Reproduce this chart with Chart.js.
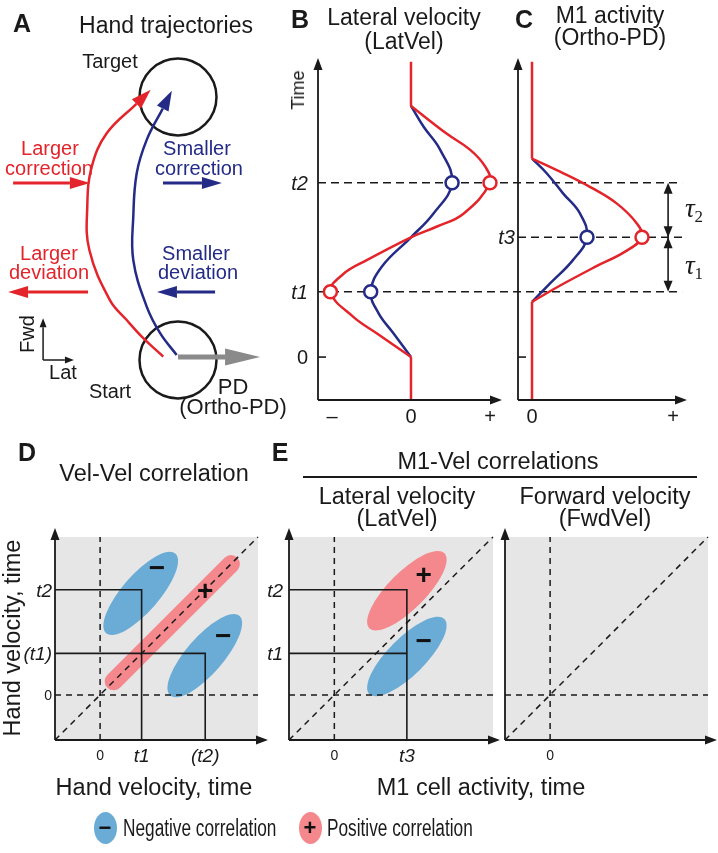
<!DOCTYPE html>
<html>
<head>
<meta charset="utf-8">
<script src="https://cdn.jsdelivr.net/npm/chart.js@4.4.0/dist/chart.umd.min.js"></script>
<style>
  body { margin: 0; background: #fff; }
  #fig { position: relative; width: 718px; height: 853px; overflow: hidden;
         font-family: "Liberation Sans", Arial, Helvetica, sans-serif; color: #1a1a1a; }
  #fig canvas { position: absolute; left: 0; top: 0; }
  .t { position: absolute; white-space: nowrap; line-height: 1; }
  .t sub { font-style: normal; font-size: 17px; vertical-align: -0.3em; }
</style>
</head>
<body>
<div id="fig"></div>
<script>
// ---------- data ----------
// A: hand paths, lateral / forward position (start = 0,0 ; target = 0,10)
const targetStart = [{x: 0, y: 10}, {x: 0, y: 0}];
const trajRed = [{x: -0.56, y: 0.13}, {x: -1.32, y: 0.83}, {x: -1.95, y: 1.52}, {x: -2.59, y: 2.28},
  {x: -3.37, y: 4.18}, {x: -3.45, y: 5.83}, {x: -3.28, y: 7.35}, {x: -2.71, y: 8.62},
  {x: -1.58, y: 9.74}];
const trajBlue = [{x: -0.05, y: 0.19}, {x: -0.68, y: 1.02}, {x: -1.19, y: 2.03}, {x: -1.70, y: 3.80},
  {x: -1.70, y: 5.45}, {x: -1.57, y: 7.10}, {x: -1.19, y: 8.37}, {x: -0.58, y: 9.56}];
const corrLarger = [{x: -6.27, y: 6.73}, {x: -4.11, y: 6.73}];
const corrSmaller = [{x: -0.57, y: 6.73}, {x: 0.91, y: 6.73}];
const devLarger = [{x: -3.42, y: 2.59}, {x: -5.70, y: 2.59}];
const devSmaller = [{x: 1.41, y: 2.59}, {x: -0.04, y: 2.59}];
const pdArrow = [{x: 0, y: 0.11}, {x: 1.79, y: 0.11}];
const fwdArrow = [{x: -5.13, y: 0}, {x: -5.13, y: 1.25}];
const latArrow = [{x: -5.13, y: 0}, {x: -4.30, y: 0}];

// B / C: time runs upward, movement from 0 to 1
const t1 = 0.26, t3 = 0.477, t2 = 0.694;
const latRedPre = [{x: 0, y: -0.171}, {x: 0, y: 0}];
const latRedWave = [{x: 0, y: 0}, {x: -0.43, y: 0.094}, {x: -0.73, y: 0.16}, {x: -1.02, y: 0.26},
  {x: -0.86, y: 0.33}, {x: -0.56, y: 0.386}, {x: 0, y: 0.477}, {x: 0.33, y: 0.52},
  {x: 0.66, y: 0.57}, {x: 1.0, y: 0.694}, {x: 0.94, y: 0.758}, {x: 0.75, y: 0.825},
  {x: 0.45, y: 0.89}, {x: 0, y: 1.0}];
const latRedPost = [{x: 0, y: 1.0}, {x: 0, y: 1.176}];
const latBlueWave = [{x: 0, y: 0}, {x: -0.22, y: 0.094}, {x: -0.41, y: 0.174}, {x: -0.51, y: 0.26},
  {x: -0.37, y: 0.36}, {x: 0, y: 0.477}, {x: 0.28, y: 0.57}, {x: 0.52, y: 0.694},
  {x: 0.37, y: 0.825}, {x: 0.16, y: 0.917}, {x: 0, y: 1.0}];
const latRedPeaks = [{x: -1.02, y: t1}, {x: 1.0, y: t2}];
const latBluePeaks = [{x: -0.51, y: t1}, {x: 0.52, y: t2}];
const latXTicks = [-1, 0, 1], latXLabels = ['–', '0', '+'];
const latYTicks = [0, t1, t2], latYLabels = ['0', 't1', 't2'];

const m1RedPre = [{x: 0, y: -0.171}, {x: 0, y: 0.22}];
const m1RedWave = [{x: 0, y: 0.22}, {x: 0.2, y: 0.285}, {x: 0.45, y: 0.36}, {x: 0.66, y: 0.42},
  {x: 0.78, y: 0.477}, {x: 0.742, y: 0.533}, {x: 0.60, y: 0.612}, {x: 0.41, y: 0.678},
  {x: 0.199, y: 0.738}, {x: 0, y: 0.79}];
const m1RedPost = [{x: 0, y: 0.79}, {x: 0, y: 1.176}];
const m1BlueWave = [{x: 0, y: 0.22}, {x: 0.128, y: 0.293}, {x: 0.29, y: 0.386}, {x: 0.39, y: 0.477},
  {x: 0.34, y: 0.572}, {x: 0.22, y: 0.652}, {x: 0.104, y: 0.732}, {x: 0, y: 0.79}];
const m1RedPeaks = [{x: 0.78, y: t3}];
const m1BluePeaks = [{x: 0.39, y: t3}];
const m1XTicks = [0, 1], m1XLabels = ['0', '+'];
const tauX = 0.965, guideEnd = 1.064;

// D / E: correlation maps, both axes in the same time units
const corrMin = -1, corrMax = 3.5;
const vvT1 = 0.92, vvT2 = 2.33, eT3 = 1.6;
const vvNeg = [{x: 0.9, y: 2.25, a: 1.17, b: 0.41, ang: 49}, {x: 2.32, y: 0.87, a: 1.17, b: 0.41, ang: 49}];
const vvPosBand = [{x: 0.3, y: 0.3}, {x: 2.9, y: 2.9}];
const vvSteps = [[{x: -1, y: vvT2}, {x: vvT1, y: vvT2}, {x: vvT1, y: -1}],
                 [{x: -1, y: vvT1}, {x: vvT2, y: vvT1}, {x: vvT2, y: -1}]];
const vvSigns = [{x: 1.26, y: 2.82, s: '−'}, {x: 2.33, y: 2.31, s: '+'}, {x: 2.73, y: 1.31, s: '−'}];
const vvXTicks = [0, vvT1, vvT2], vvXLabels = ['0', 't1', '(t2)'];
const vvYTicks = [0, vvT1, vvT2], vvYLabels = ['0', '(t1)', 't2'];

const latPos = [{x: 1.6, y: 2.31, a: 1.17, b: 0.41, ang: 45}];
const latNeg = [{x: 1.6, y: 0.85, a: 1.17, b: 0.41, ang: 45}];
const latSteps = [[{x: -1, y: vvT2}, {x: eT3, y: vvT2}, {x: eT3, y: -1}],
                  [{x: -1, y: vvT1}, {x: eT3, y: vvT1}]];
const latSigns = [{x: 1.97, y: 2.66, s: '+'}, {x: 1.97, y: 1.2, s: '−'}];
const eLXTicks = [0, eT3], eLXLabels = ['0', 't3'];
const eYTicks = [vvT1, vvT2], eYLabels = ['t1', 't2'];
const eRXTicks = [0], eRXLabels = ['0'];

// ---------- drawing ----------
const RED = '#e3242b', NAVY = '#242b86', INK = '#1a1a1a', PANEL = '#e6e6e6',
      PINK = '#f5888d', SKY = '#6aacd5', PDGRAY = '#8a8a8a';
const W = 718, H = 853;
const fig = document.getElementById('fig');

function T(s, x, y, o = {}) {
  const d = document.createElement('div');
  d.className = 't';
  if (o.html) d.innerHTML = s; else d.textContent = s;
  const st = d.style;
  st.left = x + 'px'; st.top = y + 'px';
  st.fontSize = (o.size || 20) + 'px';
  if (o.bold) st.fontWeight = 'bold';
  if (o.italic) st.fontStyle = 'italic';
  if (o.color) st.color = o.color;
  if (o.serif) st.fontFamily = '"Liberation Serif", "Times New Roman", serif';
  const tx = o.align === 'l' ? '0' : o.align === 'r' ? '-100%' : '-50%';
  st.transformOrigin = o.align === 'l' ? '0 50%' : '50% 50%';
  st.transform = 'translate(' + tx + ',-50%)' + (o.rot ? ' rotate(' + o.rot + 'deg)' : '') +
                 (o.sx ? ' scaleX(' + o.sx + ')' : '');
  fig.appendChild(d);
  return d;
}

function tri(ctx, x, y, a, L, h) {
  ctx.beginPath();
  ctx.moveTo(x, y);
  ctx.lineTo(x - L * Math.cos(a) + h * Math.sin(a), y - L * Math.sin(a) - h * Math.cos(a));
  ctx.lineTo(x - L * Math.cos(a) - h * Math.sin(a), y - L * Math.sin(a) + h * Math.cos(a));
  ctx.closePath();
  ctx.fill();
}

function line(data, color, width, extra) {
  return Object.assign({data, showLine: true, borderColor: color, backgroundColor: color,
    borderWidth: width, pointRadius: 0, tension: 0, clip: false, fill: false}, extra || {});
}
function marks(data, color) {
  return {data, showLine: false, pointRadius: 6.5, pointBorderWidth: 2.5, pointBorderColor: color,
    borderColor: color, pointBackgroundColor: '#fff', backgroundColor: '#fff', clip: false, order: 0};
}

function makeChart(area, xr, yr, datasets, plugins) {
  const cv = document.createElement('canvas');
  cv.width = W; cv.height = H;
  cv.style.width = W + 'px'; cv.style.height = H + 'px';
  fig.appendChild(cv);
  return new Chart(cv, {
    type: 'scatter',
    data: {datasets},
    options: {
      responsive: false, animation: false, events: [],
      layout: {autoPadding: false,
               padding: {left: area.l, top: area.t, right: W - area.r, bottom: H - area.b}},
      plugins: {legend: {display: false}, tooltip: {enabled: false}},
      scales: {
        x: {type: 'linear', display: false, min: xr[0], max: xr[1]},
        y: {type: 'linear', display: false, min: yr[0], max: yr[1]}
      }
    },
    plugins: plugins || []
  });
}

// arrow heads on datasets that carry [length, half width]
const headPlugin = {
  id: 'heads',
  afterDatasetsDraw(chart) {
    const ctx = chart.ctx;
    chart.data.datasets.forEach((d, i) => {
      if (!d.head) return;
      const pts = chart.getDatasetMeta(i).data;
      const p = pts[pts.length - 1], q = pts[pts.length - 2];
      let fx = q.x, fy = q.y;
      if (d.tension && p.cp1x !== undefined && (p.cp1x !== p.x || p.cp1y !== p.y)) { fx = p.cp1x; fy = p.cp1y; }
      const a = Math.atan2(p.y - fy, p.x - fx);
      const [L, h] = d.head;
      ctx.save();
      ctx.fillStyle = d.borderColor;
      tri(ctx, p.x + L * Math.cos(a), p.y + L * Math.sin(a), a, L, h);
      ctx.restore();
    });
  }
};

function drawAxes(chart, extTop, extRight) {
  const {ctx, chartArea: a} = chart;
  const L = 12, h = 4.5;
  ctx.save();
  ctx.strokeStyle = ctx.fillStyle = INK;
  ctx.lineWidth = 1.8;
  ctx.beginPath();
  ctx.moveTo(a.left, a.bottom); ctx.lineTo(a.left, a.top - extTop + L - 1);
  ctx.moveTo(a.left, a.bottom); ctx.lineTo(a.right + extRight - L + 1, a.bottom);
  ctx.stroke();
  tri(ctx, a.left, a.top - extTop, -Math.PI / 2, L, h);
  tri(ctx, a.right + extRight, a.bottom, 0, L, h);
  ctx.restore();
}

function zeroTick(chart) {
  const {ctx, chartArea: a, scales: {y}} = chart;
  ctx.save();
  ctx.strokeStyle = INK; ctx.lineWidth = 1.6;
  ctx.beginPath();
  ctx.moveTo(a.left, y.getPixelForValue(0)); ctx.lineTo(a.left + 8, y.getPixelForValue(0));
  ctx.stroke();
  ctx.restore();
}

// ---------- A ----------
const areaA = {l: 0, t: 0, r: 300, b: 420};
makeChart(areaA, [-6.768, 4.639], [-2.281, 13.688], [
  {data: targetStart, showLine: false, pointRadius: 38.5, pointBorderWidth: 2.5, pointBorderColor: INK,
   borderColor: INK, pointBackgroundColor: 'rgba(0,0,0,0)', backgroundColor: 'rgba(0,0,0,0)', clip: false, order: 5},
  line(trajRed, RED, 2.5, {tension: 0.4, head: [20, 6.5], order: 3}),
  line(trajBlue, NAVY, 2.5, {tension: 0.4, head: [20, 6.5], order: 3}),
  line(corrLarger, RED, 3, {head: [20, 6], order: 2}),
  line(corrSmaller, NAVY, 3, {head: [20, 6], order: 2}),
  line(devLarger, RED, 3, {head: [20, 6], order: 2}),
  line(devSmaller, NAVY, 3, {head: [20, 6], order: 2}),
  line(fwdArrow, INK, 1.5, {head: [9, 3.5], order: 2}),
  line(latArrow, INK, 1.5, {head: [9, 3.5], order: 2}),
  line(pdArrow, PDGRAY, 5, {head: [35, 8.5], order: 1})
], [headPlugin]);

// ---------- C (below B so that B's markers cover the guides) ----------
const areaB = {l: 318, t: 58, r: 502, b: 400};
const areaC = {l: 518, t: 58, r: 687, b: 400};
const timeRange = [-0.171, 1.191];
const chartC = makeChart(areaC, [-0.0993, 1.099], timeRange, [
  marks(m1RedPeaks, RED),
  marks(m1BluePeaks, NAVY),
  line(m1BlueWave, NAVY, 2.5, {tension: 0.4, order: 2}),
  line(m1RedWave, RED, 2.5, {tension: 0.4, order: 1}),
  line(m1RedPre, RED, 2.5, {order: 1}),
  line(m1RedPost, RED, 2.5, {order: 1})
], [{
  id: 'guidesC',
  beforeDatasetsDraw(chart) {
    const {ctx, chartArea: a, scales: {x, y}} = chart;
    const xe = x.getPixelForValue(guideEnd);
    ctx.save();
    ctx.strokeStyle = INK; ctx.lineWidth = 1.5; ctx.setLineDash([8, 5]);
    ctx.beginPath();
    [t1, t2].forEach(t => { ctx.moveTo(areaB.l, y.getPixelForValue(t)); ctx.lineTo(xe, y.getPixelForValue(t)); });
    ctx.moveTo(a.left, y.getPixelForValue(t3)); ctx.lineTo(xe, y.getPixelForValue(t3));
    ctx.stroke();
    // tau arrows
    const xt = x.getPixelForValue(tauX);
    ctx.setLineDash([]); ctx.lineWidth = 1.6; ctx.fillStyle = INK;
    ctx.beginPath(); ctx.moveTo(xt, y.getPixelForValue(t2) + 6); ctx.lineTo(xt, y.getPixelForValue(t1) - 6); ctx.stroke();
    tri(ctx, xt, y.getPixelForValue(t2), -Math.PI / 2, 11, 4.5);
    tri(ctx, xt, y.getPixelForValue(t3), Math.PI / 2, 11, 4.5);
    tri(ctx, xt, y.getPixelForValue(t3), -Math.PI / 2, 11, 4.5);
    tri(ctx, xt, y.getPixelForValue(t1), Math.PI / 2, 11, 4.5);
    ctx.restore();
  },
  afterDraw(chart) { drawAxes(chart, 0, 0); zeroTick(chart); }
}]);

// ---------- B ----------
const chartB = makeChart(areaB, [-1.177, 1.152], timeRange, [
  marks(latRedPeaks, RED),
  marks(latBluePeaks, NAVY),
  line(latBlueWave, NAVY, 2.5, {tension: 0.4, order: 2}),
  line(latRedWave, RED, 2.5, {tension: 0.4, order: 1}),
  line(latRedPre, RED, 2.5, {order: 1}),
  line(latRedPost, RED, 2.5, {order: 1})
], [{id: 'axesB', afterDraw(chart) { drawAxes(chart, 0, 0); zeroTick(chart); }}]);

// ---------- D / E ----------
function corrChart(area, extRight, o) {
  const ds = [];
  const dash = {borderDash: [6, 5], order: 2};
  ds.push(line([{x: 0, y: corrMin}, {x: 0, y: corrMax}], INK, 1.5, dash));
  ds.push(line([{x: corrMin, y: 0}, {x: corrMax, y: 0}], INK, 1.5, dash));
  ds.push(line([{x: corrMin, y: corrMin}, {x: corrMax, y: corrMax}], INK, 1.5, dash));
  (o.steps || []).forEach(s => ds.push(line(s, INK, 1.6, {order: 1})));
  if (o.band) ds.push(line(o.band, PINK, 18, {borderCapStyle: 'round', order: 3}));
  return makeChart(area, [corrMin, corrMax], [corrMin, corrMax], ds, [{
    id: 'corr',
    beforeDatasetsDraw(chart) {
      const {ctx, chartArea: a, scales: {x, y}} = chart;
      const k = x.getPixelForValue(1) - x.getPixelForValue(0);
      ctx.save();
      ctx.fillStyle = PANEL;
      ctx.fillRect(a.left, a.top, a.right - a.left, a.bottom - a.top);
      (o.regions || []).forEach(([list, col]) => list.forEach(r => {
        ctx.fillStyle = col;
        ctx.beginPath();
        ctx.ellipse(x.getPixelForValue(r.x), y.getPixelForValue(r.y), r.a * k, r.b * k,
                    -r.ang * Math.PI / 180, 0, 2 * Math.PI);
        ctx.fill();
      }));
      ctx.restore();
    },
    afterDraw(chart) { drawAxes(chart, 9, extRight); }
  }]);
}

const areaD = {l: 55, t: 537, r: 258, b: 740};
const areaEL = {l: 289, t: 537, r: 493, b: 740};
const areaER = {l: 505, t: 537, r: 708, b: 740};
const chartD = corrChart(areaD, 10, {regions: [[vvNeg, SKY]], band: vvPosBand, steps: vvSteps});
const chartEL = corrChart(areaEL, 7, {regions: [[latPos, PINK], [latNeg, SKY]], steps: latSteps});
const chartER = corrChart(areaER, 9, {});

// ---------- text ----------
function tickStyle(small) {
  return s => (s === '0' ? {size: small ? 14 : 20} :
               /t/.test(s) ? {size: small ? 19 : 20, italic: true} : {size: 20});
}
function xTicks(chart, vals, labs, dy, st) {
  vals.forEach((v, i) => T(labs[i], chart.scales.x.getPixelForValue(v), chart.chartArea.bottom + dy, st(labs[i])));
}
function yTicks(chart, vals, labs, dx, st) {
  vals.forEach((v, i) => T(labs[i], chart.chartArea.left - dx, chart.scales.y.getPixelForValue(v),
                           Object.assign({align: 'r'}, st(labs[i]))));
}
function signs(chart, list, size) {
  list.forEach(s => T(s.s, chart.scales.x.getPixelForValue(s.x), chart.scales.y.getPixelForValue(s.y),
                      {size, bold: true, color: '#111'}));
}

xTicks(chartB, latXTicks, latXLabels, 16, tickStyle(false));
yTicks(chartB, latYTicks, latYLabels, 10, tickStyle(false));
xTicks(chartC, m1XTicks, m1XLabels, 16, tickStyle(false));
yTicks(chartC, [t3], ['t3'], 3, tickStyle(false));
xTicks(chartD, vvXTicks, vvXLabels, 15, tickStyle(true));
yTicks(chartD, vvYTicks, vvYLabels, 3, tickStyle(true));
xTicks(chartEL, eLXTicks, eLXLabels, 15, tickStyle(true));
yTicks(chartEL, eYTicks, eYLabels, 6, tickStyle(true));
xTicks(chartER, eRXTicks, eRXLabels, 15, tickStyle(true));
signs(chartD, vvSigns, 28);
signs(chartEL, latSigns, 28);

// panel A
T('A', 22, 23, {size: 25, bold: true});
T('Hand trajectories', 166, 25, {size: 23});
T('Target', 110, 61);
T('Larger', 50, 148, {color: RED}); T('correction', 49, 168, {color: RED});
T('Smaller', 197, 148, {color: NAVY}); T('correction', 199, 168, {color: NAVY});
T('Larger', 49, 253, {color: RED}); T('deviation', 49, 272, {color: RED});
T('Smaller', 196, 253, {color: NAVY}); T('deviation', 198, 272, {color: NAVY});
T('Fwd', 27, 334, {rot: -90});
T('Lat', 63, 372);
T('Start', 110, 391);
T('PD', 233, 387, {size: 22});
T('(Ortho-PD)', 233, 407, {size: 22});

// panels B, C
T('B', 300, 19, {size: 25, bold: true});
T('Lateral velocity', 404, 17, {size: 23});
T('(LatVel)', 404, 41, {size: 23});
T('C', 524, 19, {size: 25, bold: true});
T('M1 activity', 610, 15, {size: 23});
T('(Ortho-PD)', 610, 37, {size: 23});
T('Time', 298, 90, {size: 18, rot: -90});
T('τ<sub>2</sub>', 694, 210, {html: true, serif: true, italic: true, size: 27});
T('τ<sub>1</sub>', 694, 267, {html: true, serif: true, italic: true, size: 27});

// panel D
T('D', 27, 452, {size: 25, bold: true});
T('Vel-Vel correlation', 154, 474, {size: 23.5});
T('Hand velocity, time', 13, 638, {size: 23.5, rot: -90});
T('Hand velocity, time', 154, 788, {size: 23.5});

// panel E
T('E', 280, 452, {size: 25, bold: true});
T('M1-Vel correlations', 498, 462, {size: 23.5});
const rule = document.createElement('div');
Object.assign(rule.style, {position: 'absolute', left: '303px', top: '476px', width: '394px', height: '1.6px', background: INK});
fig.appendChild(rule);
T('Lateral velocity', 397, 497, {size: 23.5});
T('(LatVel)', 397, 519, {size: 23.5});
T('Forward velocity', 605, 497, {size: 23.5});
T('(FwdVel)', 605, 519, {size: 23.5});
T('M1 cell activity, time', 481, 788, {size: 23.5});

// legend
function blob(x, y, col, sign) {
  const b = document.createElement('div');
  Object.assign(b.style, {position: 'absolute', left: (x - 11.5) + 'px', top: (y - 16) + 'px',
    width: '23px', height: '32px', borderRadius: '50%', background: col});
  fig.appendChild(b);
  T(sign, x, y, {size: 22, bold: true, color: '#111'});
}
blob(105, 828, SKY, '−');
T('Negative correlation', 123, 828, {size: 23, align: 'l', sx: 0.75});
blob(310, 828, PINK, '+');
T('Positive correlation', 327, 828, {size: 23, align: 'l', sx: 0.75});
</script>
</body>
</html>
